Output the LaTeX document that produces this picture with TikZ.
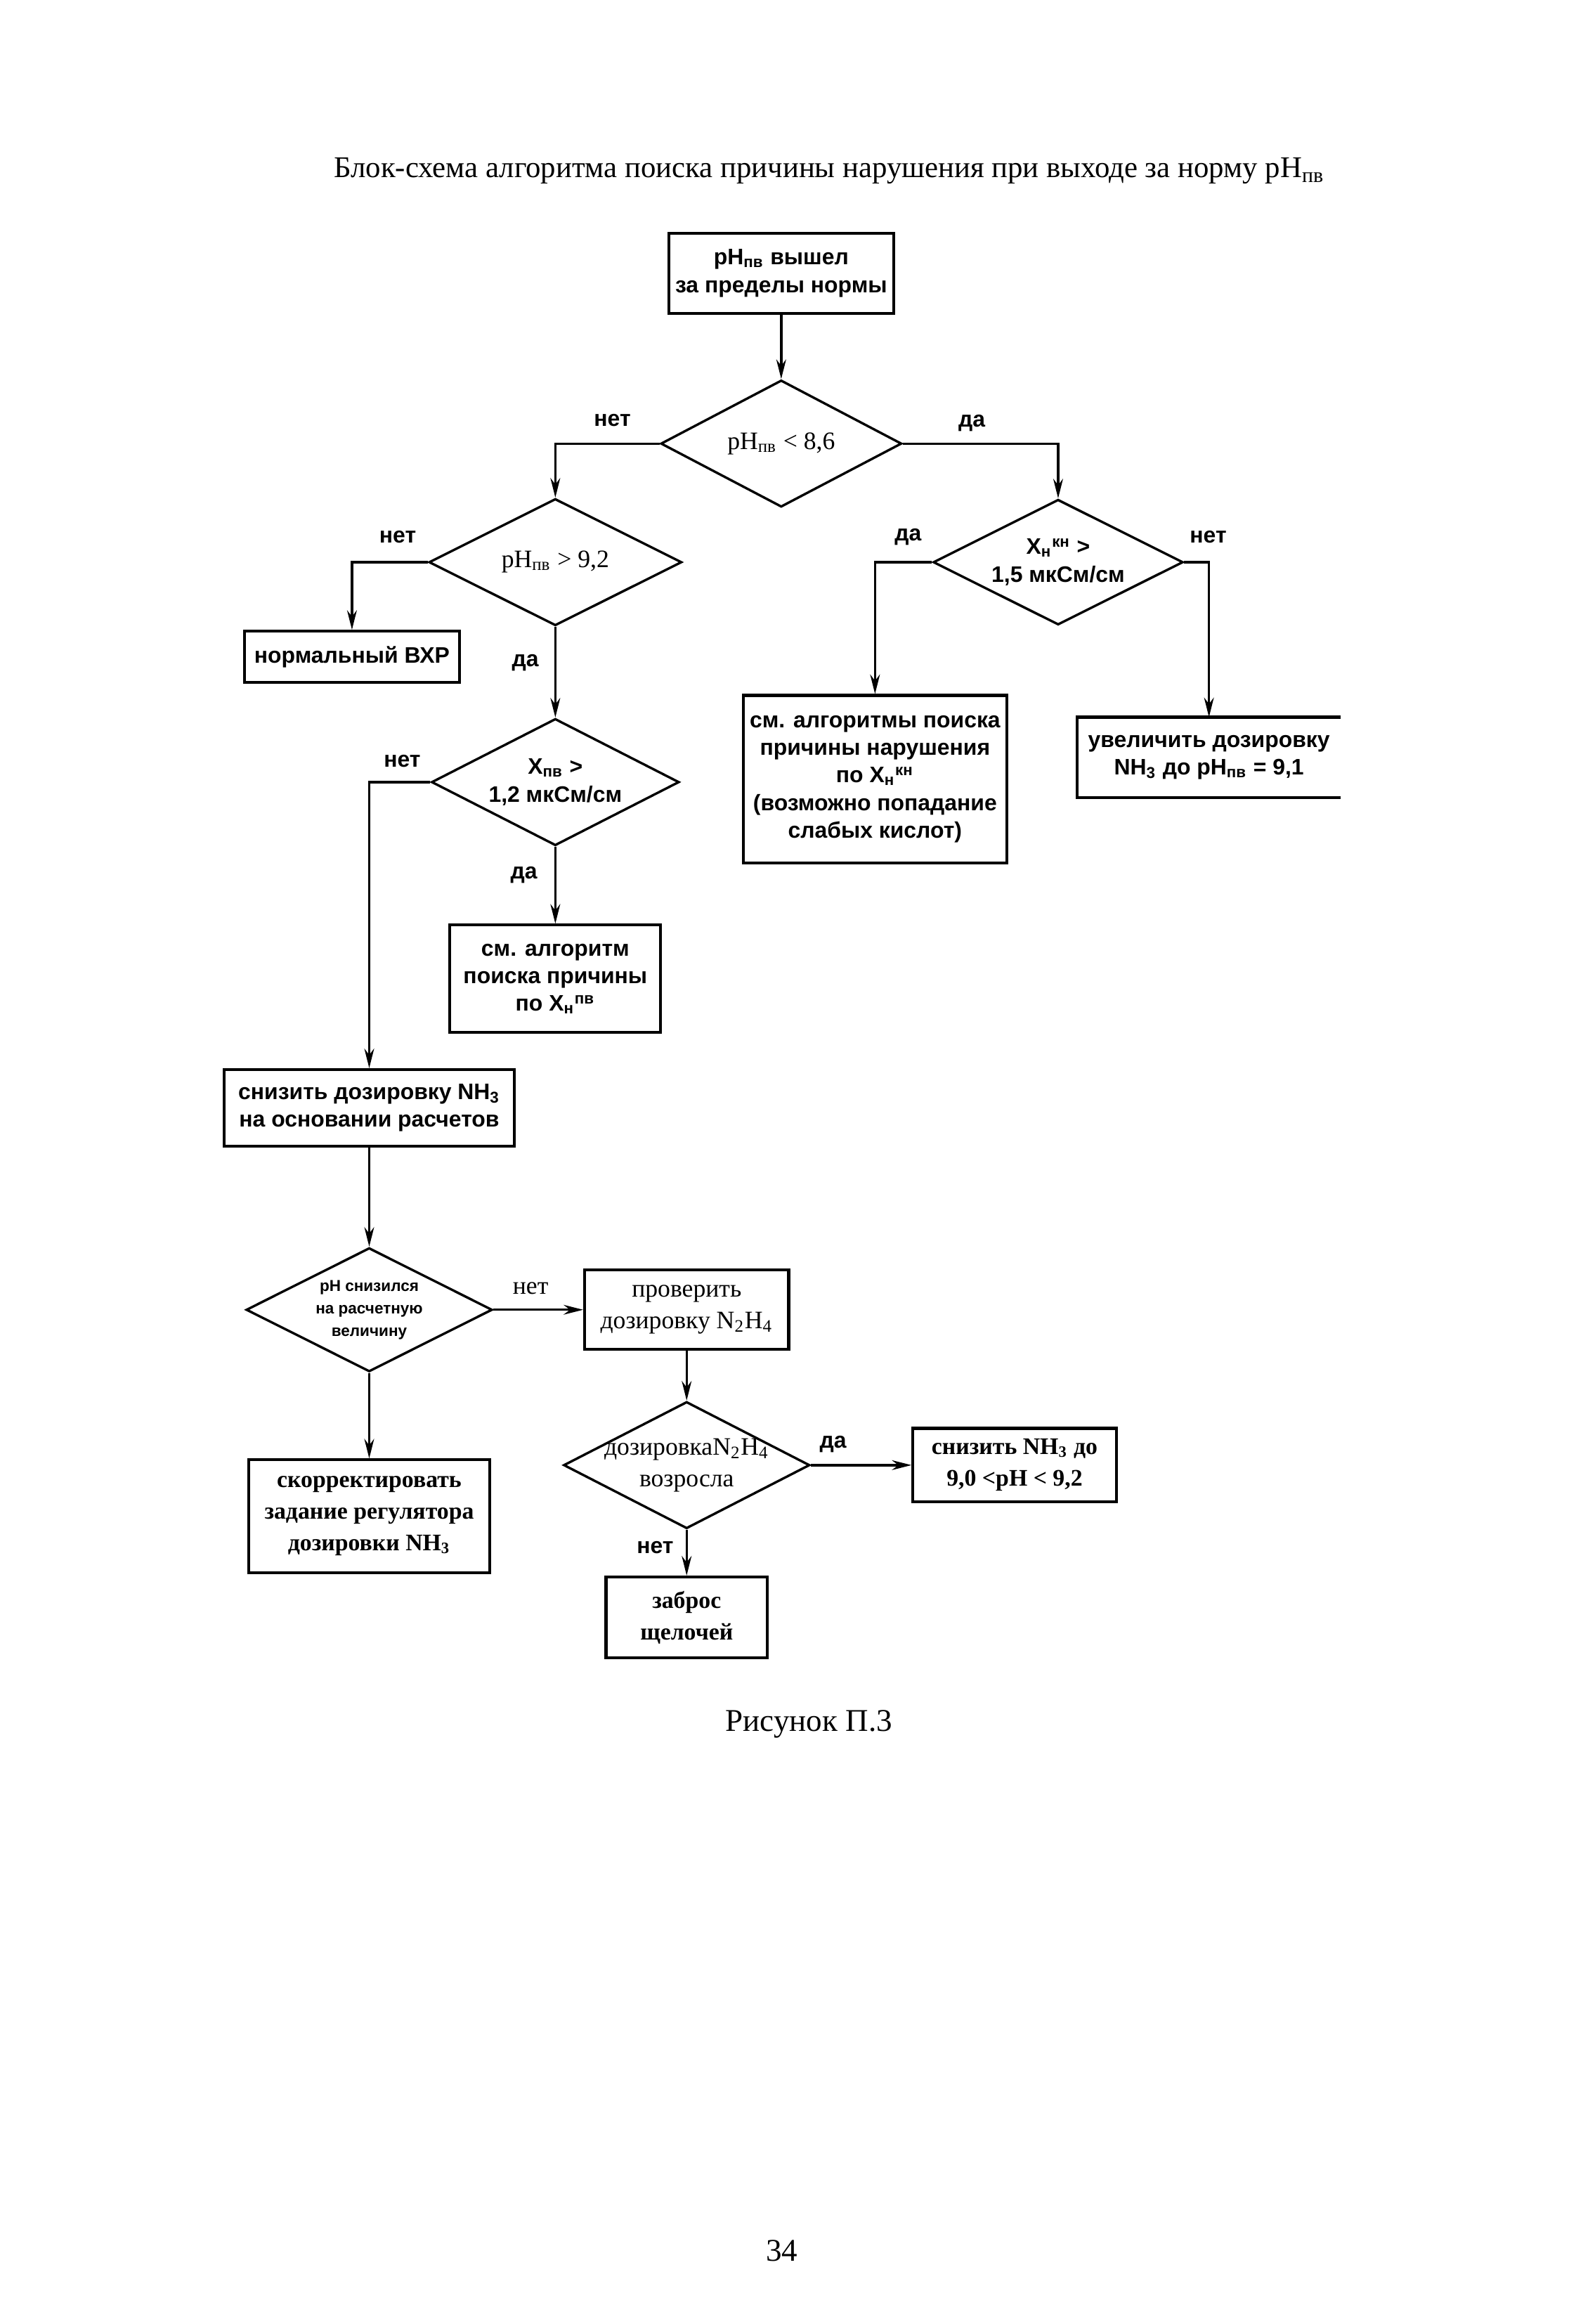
\documentclass[tikz,border=0pt]{standalone}
\usepackage{fontspec}
\usepackage{amsmath}
\setmainfont{Liberation Serif}
\setsansfont{Liberation Sans}
\usetikzlibrary{shapes.geometric,arrows.meta}
\newcommand{\pv}{\textsubscript{пв}}

\begin{document}
\begin{tikzpicture}[
    >={Stealth[length=2.6mm,width=1.3mm]},
    line width=0.9pt,
    blk/.style={draw,line width=1.1pt,align=center,inner sep=1pt},
    cond/.style={draw,diamond,inner sep=0pt,minimum width=3.3cm,minimum height=1.69cm},
    sfb/.style={font=\sffamily\bfseries\fontsize{8.5}{10.5}\selectfont},
    rmn/.style={font=\rmfamily\fontsize{9.5}{12}\selectfont},
    rmb/.style={font=\rmfamily\bfseries\fontsize{9}{12}\selectfont},
    ans/.style={font=\sffamily\bfseries\fontsize{8.5}{10}\selectfont}
]
        \useasboundingbox (0,0) rectangle (21,-30.963);
        \node[font=\rmfamily\fontsize{11.4}{14}\selectfont] (title) at (11.05,-2.28) {Блок-схема алгоритма поиска причины нарушения при выходе за норму pH\pv};
        \node[blk,sfb,minimum width=3.0cm,minimum height=1.07cm] (start) at (10.41,-3.64) {pH\pv{} вышел\\за пределы нормы};
        \node[cond,minimum width=3.21cm,label={[rmn]center:pH\pv{} < 8,6}] (ph86) at (10.41,-5.91) {};
        \node[cond,minimum width=3.37cm,label={[rmn]center:pH\pv{} > 9,2}] (ph92) at (7.40,-7.49) {};
        \node[cond,minimum width=3.33cm,minimum height=1.67cm,label={[sfb,align=center]center:{X\textsubscript{н}\textsuperscript{кн} >\\1,5 мкСм/см}}] (xkn) at (14.10,-7.49) {};
        \node[blk,sfb,minimum width=2.87cm,minimum height=0.68cm] (vxr) at (4.69,-8.75) {нормальный ВХР};
        \node[cond,label={[sfb,align=center]center:{X\pv{} >\\1,2 мкСм/см}}] (xpv) at (7.40,-10.42) {};
        \node[blk,sfb,minimum width=2.81cm,minimum height=1.43cm] (algpv) at (7.40,-13.04) {см. алгоритм\\поиска причины\\по X\textsubscript{н}\textsuperscript{пв}};
        \node[blk,sfb,minimum width=3.51cm,minimum height=2.23cm] (algkn) at (11.66,-10.38) {см. алгоритмы поиска\\причины нарушения\\по X\textsubscript{н}\textsuperscript{кн}\\(возможно попадание\\слабых кислот)};
        \node[sfb,align=center,minimum width=3.48cm,minimum height=1.04cm] (incr) at (16.11,-10.09) {увеличить дозировку\\NH\textsubscript{3} до pH\pv{} = 9,1};
        \draw[line width=1.1pt] (incr.north east) -- (incr.north west) -- (incr.south west) -- (incr.south east);
        \node[blk,sfb,minimum width=3.87cm,minimum height=1.02cm] (decr) at (4.92,-14.76) {снизить дозировку NH\textsubscript{3}\\на основании расчетов};
        \node[cond,minimum width=3.28cm,minimum height=1.65cm,label={[align=center,font=\sffamily\bfseries\fontsize{6}{8.5}\selectfont]center:{pH снизился\\на расчетную\\величину}}] (phdown) at (4.92,-17.45) {};
        \node[blk,rmb,minimum width=3.21cm,minimum height=1.50cm] (corr) at (4.92,-20.20) {скорректировать\\задание регулятора\\дозировки NH\textsubscript{3}};
        \node[blk,rmn,minimum width=2.72cm,minimum height=1.06cm] (check) at (9.15,-17.45) {проверить\\дозировку N\textsubscript{2}H\textsubscript{4}};
        \node[cond,minimum width=3.28cm,label={[rmn,align=center]center:{дозировкаN\textsubscript{2}H\textsubscript{4}\\возросла}}] (nhup) at (9.15,-19.52) {};
        \node[blk,rmb,minimum width=2.71cm,minimum height=0.98cm] (lower) at (13.52,-19.52) {снизить NH\textsubscript{3} до\\9,0 <pH < 9,2};
        \node[blk,rmb,minimum width=2.15cm,minimum height=1.08cm] (alk) at (9.15,-21.55) {заброс\\щелочей};
        \draw[->] (start) -- (ph86);
        \draw[->] (ph86.west) -| (ph92.north);
        \draw[->] (ph86.east) -| (xkn.north);
        \draw[->] (ph92.west) -| (vxr.north);
        \draw[->] (ph92) -- (xpv);
        \draw[->] (xpv.west) -| (decr.north);
        \draw[->] (xpv) -- (algpv);
        \draw[->] (xkn.west) -| (algkn.north);
        \draw[->] (xkn.east) -| (incr.north);
        \draw[->] (decr) -- (phdown);
        \draw[->] (phdown) -- (corr);
        \draw[->] (phdown) -- (check);
        \draw[->] (check) -- (nhup);
        \draw[->] (nhup) -- (lower);
        \draw[->] (nhup) -- (alk);
        \node[ans] (no1) at (8.16,-5.60) {нет};
        \node[ans] (yes1) at (12.95,-5.64) {да};
        \node[ans] (no2) at (5.30,-7.15) {нет};
        \node[ans] (yes2) at (7.00,-8.83) {да};
        \node[ans] (yes3) at (12.10,-7.15) {да};
        \node[ans] (no3) at (16.10,-7.15) {нет};
        \node[ans] (no4) at (5.36,-10.14) {нет};
        \node[ans] (yes4) at (6.98,-11.66) {да};
        \node[rmn] (no5) at (7.07,-17.16) {нет};
        \node[ans] (yes5) at (11.10,-19.24) {да};
        \node[ans] (no6) at (8.73,-20.62) {нет};
        \node[font=\rmfamily\fontsize{12}{14}\selectfont] (caption) at (10.78,-22.97) {Рисунок П.3};
        \node[font=\rmfamily\fontsize{12}{14}\selectfont] (page) at (10.42,-29.99) {34};
    \end{tikzpicture}
\end{document}
